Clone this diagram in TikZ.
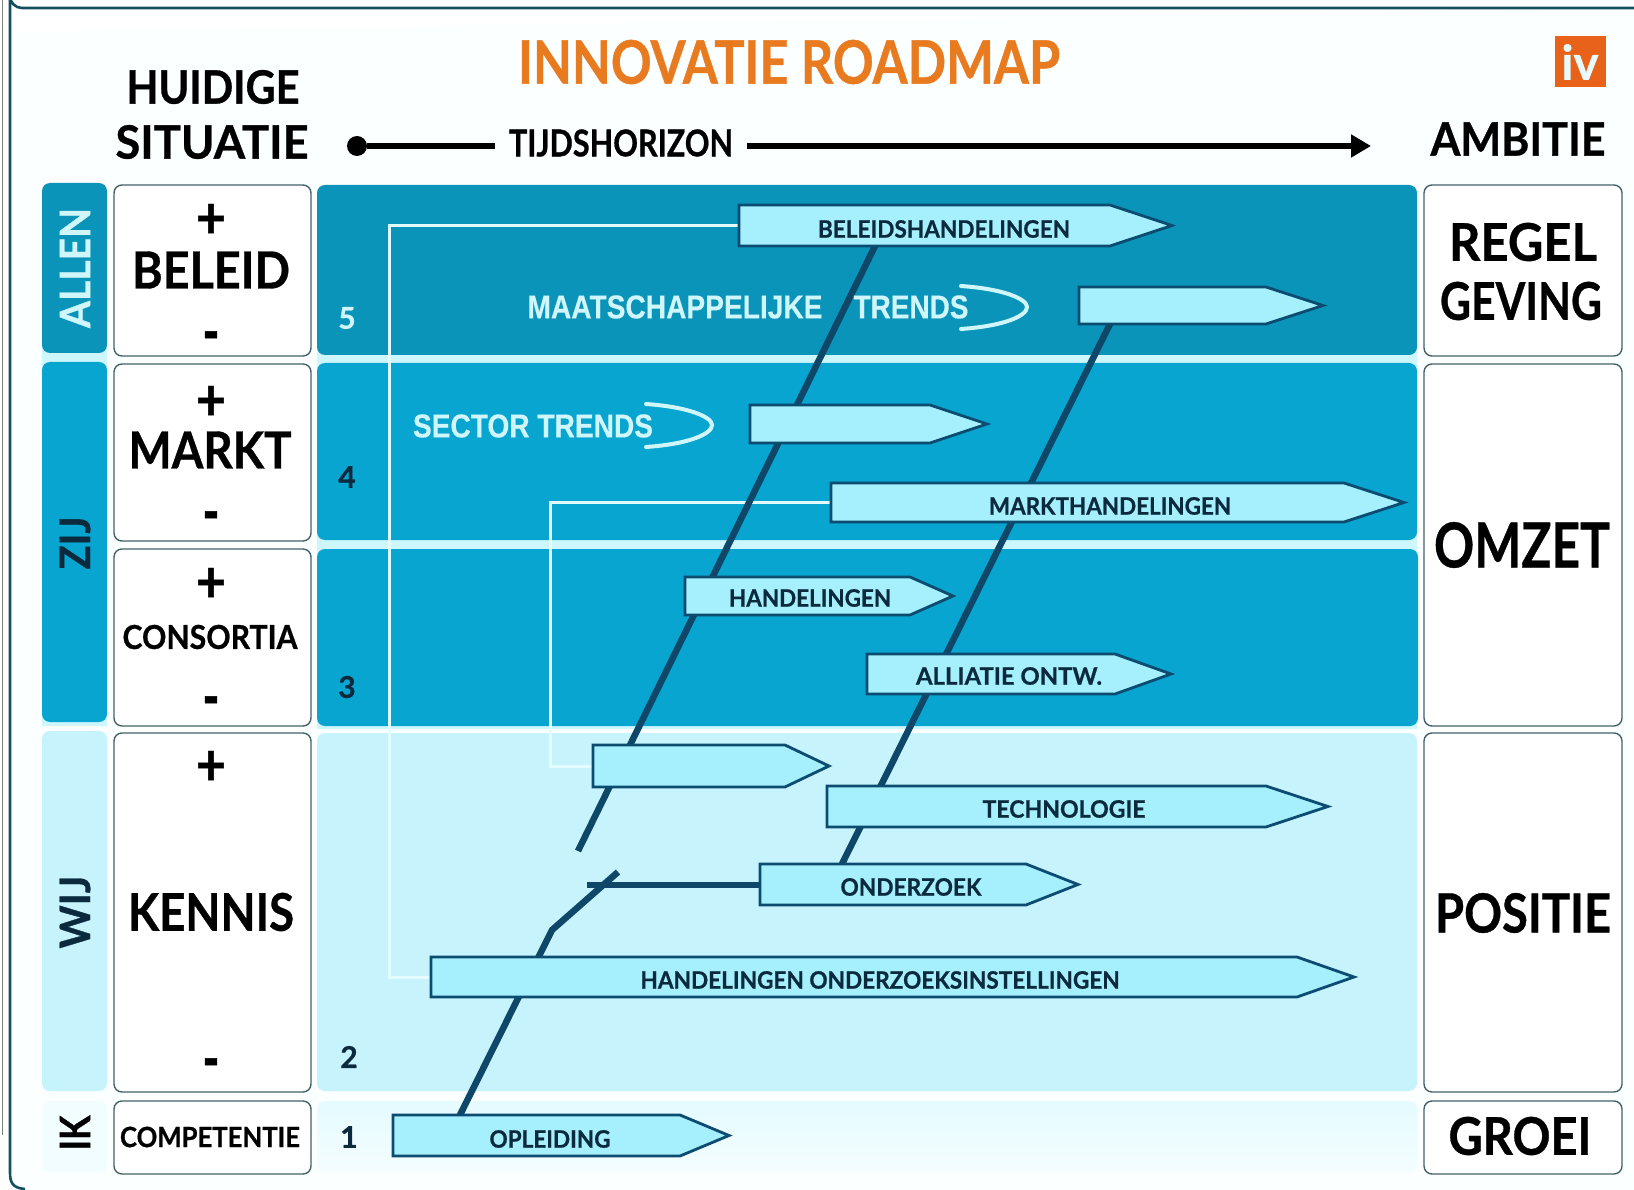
\documentclass[tikz,border=0pt]{standalone}
\usepackage{fontspec}
\usepackage{graphicx}
\setmainfont{Lato}[BoldFeatures={FakeBold=0.7}]
\newfontfamily\arialbold{Liberation Sans}[BoldFeatures={FakeBold=0.3}]
\usetikzlibrary{fit,arrows.meta,backgrounds}
\definecolor{frameC}{HTML}{14505F}
\definecolor{pageC}{HTML}{FBFFFF}
\definecolor{gapC}{HTML}{CDF7FD}
\definecolor{bandA}{HTML}{0A94B9}
\definecolor{bandB}{HTML}{07A5CF}
\definecolor{bandC}{HTML}{C6F3FC}
\definecolor{bandD}{HTML}{E4FBFF}
\definecolor{boxline}{HTML}{43626A}
\definecolor{arrowfill}{HTML}{A6EFFC}
\definecolor{arrowline}{HTML}{0C4C70}
\definecolor{spine}{HTML}{0E4768}
\definecolor{paleT}{HTML}{CFF6FB}
\definecolor{feedC}{HTML}{E2FCFF}
\definecolor{darkT}{HTML}{0B2A3E}
\definecolor{titleC}{HTML}{E87A1F}
\definecolor{logoC}{HTML}{E8621A}
\newcommand\T[3]{\resizebox{#2pt}{\height}{\fontsize{#1}{#1}\selectfont\bfseries #3}}
\newcommand\arrowbox[6]{%
  \draw[arrowshape] (#2,#3) -- (#5,#3) -- (#6,{(#3+#4)/2}) -- (#5,#4) -- (#2,#4) -- cycle;
  \node[fit={(#2,#3) (#6,#4)},inner sep=0pt] (#1) {};}
\pgfdeclarelayer{bands}\pgfdeclarelayer{lines}
\pgfsetlayers{bands,lines,main}
\tikzset{
  x=1pt,y=-1pt,
  arrowshape/.style={draw=arrowline,line width=2.8pt,fill=arrowfill,line join=miter},
  sidebox/.style={draw=boxline,line width=1.4pt,fill=white,rounded corners=8pt},
  bandshape/.style={rounded corners=8pt},
  txt/.style={inner sep=0pt,outer sep=0pt,text=black},
  lab/.style={inner sep=0pt,outer sep=0pt,text=darkT},
  feed/.style={draw=feedC,line width=3pt},
  spineline/.style={draw=spine,line width=6.5pt},
  curl/.style={draw=paleT,line width=4pt,line cap=round},
}
\begin{document}
\begin{tikzpicture}
\useasboundingbox (0,0) rectangle (1634,1190);
\begin{pgfonlayer}{bands}
\fill[white] (0,0) rectangle (1634,1190);
\draw[gray,line width=1pt] (2.5,0) -- (2.5,1135);
\fill[pageC] (10,1190) -- (10,20) arc[start angle=180,end angle=90,radius=12] -- (1634,8) -- (1634,1190) -- cycle;
\draw[frameC,line width=2.6pt] (1634,8) -- (22,8) arc[start angle=90,end angle=180,radius=12] -- (10,1172) .. controls (10,1182) and (12,1188) .. (25,1189);
% gap glow
\fill[gapC] (317,190) rectangle (1417,729);
\fill[gapC] (42,190) rectangle (107,726);
% left column
\fill[bandA,bandshape] (42,183) rectangle (107,353);
\fill[bandB,bandshape] (42,362) rectangle (107,722);
\fill[bandC,bandshape] (42,731) rectangle (107,1091);
\fill[bandD!50!white,bandshape] (42,1101) rectangle (107,1172);
% bands
\fill[bandA,bandshape] (317,185) rectangle (1417,355);
\fill[bandB,bandshape] (317,363) rectangle (1417,540);
\fill[bandB,bandshape] (317,549) rectangle (1418,726);
\fill[bandC,bandshape] (317,733) rectangle (1417,1091);
\shade[top color=bandD,bottom color=bandD!40!white,bandshape] (317,1101) rectangle (1417,1172);
\end{pgfonlayer}
% side boxes
\draw[sidebox] (114,185) rectangle (311,356);
\draw[sidebox] (114,364) rectangle (311,541);
\draw[sidebox] (114,549) rectangle (311,726);
\draw[sidebox] (114,733) rectangle (311,1092);
\draw[sidebox] (114,1101) rectangle (311,1174);
\draw[sidebox] (1424,185) rectangle (1622,356);
\draw[sidebox] (1424,364) rectangle (1622,726);
\draw[sidebox] (1424,733) rectangle (1622,1092);
\draw[sidebox] (1424,1101) rectangle (1622,1174);
% arrows
\arrowbox{beleid}{739}{205}{246}{1110}{1172}
\arrowbox{maat}{1079}{287}{324}{1266}{1323}
\arrowbox{sector}{750}{405}{443}{930}{987}
\arrowbox{markth}{831}{483}{522}{1344}{1404}
\arrowbox{handel}{685}{577}{615}{910}{953}
\arrowbox{allia}{867}{654}{694}{1115}{1171}
\arrowbox{blank}{593}{745}{787}{785}{829}
\arrowbox{techno}{827}{786}{827}{1266}{1328}
\arrowbox{onderz}{760}{864}{905}{1026}{1078}
\arrowbox{instel}{431}{957}{997}{1297}{1354}
\arrowbox{opleid}{393}{1115}{1156}{680}{729}
\coordinate (a1) at (875,246);
\coordinate (a2) at (578,851);
\coordinate (b1) at (1110,324);
\coordinate (b2) at (842,864);
\coordinate (c1) at (618,872);
\coordinate (c2) at (552,930);
\coordinate (c3) at (460,1115);
\coordinate (d1) at (587,885);
\begin{pgfonlayer}{lines}
\draw[feed] (beleid.west) -- ++(-349,0) |- (instel.west);
\draw[feed] (markth.west) -- ++(-280,0) |- (blank.west);
\draw[spineline] (a1) -- (a2);
\draw[spineline] (b1) -- (b2);
\draw[spineline,line join=round] (c1) -- (c2) -- (c3);
\draw[spineline] (d1) -- (d1 -| onderz.west);
\end{pgfonlayer}
% headings
\node[txt,text=titleC] (title) at (789,62) {\T{60}{542}{INNOVATIE ROADMAP}};
\node[txt] (huidige) at (213,87) {\T{46}{173}{HUIDIGE}};
\node[txt] (situatie) at (212,142) {\T{46}{193}{SITUATIE}};
\node[txt] (ambitie) at (1518,139) {\T{46}{175}{AMBITIE}};
\node[fill=black,circle,minimum size=20pt,inner sep=0pt] (dot) at (357,146) {};
\node[txt,inner xsep=14pt,inner ysep=0pt] (tijd) at (621,143) {\T{37}{224}{TIJDSHORIZON}};
\coordinate (tijdend) at (1371,146);
\draw[black,line width=6pt] (dot) -- (dot -| tijd.west);
\draw[black,line width=6pt,-{Triangle[length=20pt,width=22pt]}] (tijdend -| tijd.east) -- (tijdend);
% logo
\node[fill=logoC,minimum width=51pt,minimum height=51pt,inner sep=0pt,text=paleT!50!white] (logo) at (1580,62) {\T{48}{37}{iv}};
% left labels
\node[txt,rotate=90,text=paleT] (allen) at (75,268) {\T{42}{120}{ALLEN}};
\node[txt,rotate=90,text=darkT] (zij) at (75,543) {\T{42}{53}{ZIJ}};
\node[txt,rotate=90,text=darkT] (wij) at (75,912) {\T{42}{73}{WIJ}};
\node[txt,rotate=90] (ik) at (75,1133) {\T{42}{35}{IK}};
\node[txt] (p1) at (211,221) {\T{58}{30}{+}};
\node[txt] (bel) at (211,270) {\T{51}{158}{BELEID}};
\node[txt] (m1) at (211,343) {\T{66}{17}{-}};
\node[txt] (p2) at (211,403) {\T{58}{30}{+}};
\node[txt] (mar) at (210,450) {\T{51}{163}{MARKT}};
\node[txt] (m2) at (211,523) {\T{66}{17}{-}};
\node[txt] (p3) at (211,585) {\T{58}{30}{+}};
\node[txt] (con) at (210,637) {\T{33}{175}{CONSORTIA}};
\node[txt] (m3) at (211,708) {\T{66}{17}{-}};
\node[txt] (p4) at (211,768) {\T{58}{30}{+}};
\node[txt] (ken) at (211,912) {\T{52}{166}{KENNIS}};
\node[txt] (m4) at (211,1070) {\T{66}{17}{-}};
\node[txt] (com) at (210,1137) {\T{28}{180}{COMPETENTIE}};
% right labels
\node[txt] (reg) at (1523,242) {\T{52}{148}{REGEL}};
\node[txt] (gev) at (1521,301) {\T{52}{162}{GEVING}};
\node[txt] (omz) at (1522,545) {\T{62}{176}{OMZET}};
\node[txt] (pos) at (1523,913) {\T{54}{176}{POSITIE}};
\node[txt] (gro) at (1520,1136) {\T{52}{143}{GROEI}};
% numbers
\node[txt,text=paleT] (n5) at (347,318) {\fontsize{30}{30}\selectfont\bfseries 5};
\node[txt,text=darkT] (n4) at (347,477) {\fontsize{30}{30}\selectfont\bfseries 4};
\node[txt,text=darkT] (n3) at (347,687) {\fontsize{30}{30}\selectfont\bfseries 3};
\node[txt,text=darkT] (n2) at (349,1057) {\fontsize{30}{30}\selectfont\bfseries 2};
\node[txt,text=darkT] (n1) at (349,1137) {\fontsize{30}{30}\selectfont\bfseries 1};
% arrow labels
\node[lab] (lb1) at (944,229) {\T{24}{252}{BELEIDSHANDELINGEN}};
\node[lab] (lb2) at (1110,506) {\T{24}{242}{MARKTHANDELINGEN}};
\node[lab] (lb3) at (810,598) {\T{24}{162}{HANDELINGEN}};
\node[lab] (lb4) at (1009,676) {\T{24}{186}{ALLIATIE ONTW.}};
\node[lab] (lb5) at (1064,809) {\T{24}{163}{TECHNOLOGIE}};
\node[lab] (lb6) at (911,887) {\T{24}{141}{ONDERZOEK}};
\node[lab] (lb7) at (880,980) {\T{24}{479}{HANDELINGEN ONDERZOEKSINSTELLINGEN}};
\node[lab] (lb8) at (550,1139) {\T{24}{121}{OPLEIDING}};
% trends
\node[inner sep=0pt,text=paleT] (maatT) at (675,307) {\arialbold\T{33}{295}{MAATSCHAPPELIJKE}};
\node[inner sep=0pt,text=paleT] (trendT) at (911,307) {\arialbold\T{33}{115}{TRENDS}};
\node[inner sep=0pt,text=paleT] (sectT) at (533,426) {\arialbold\T{33}{240}{SECTOR TRENDS}};
\draw[curl] (961,286) .. controls (1004,289) and (1027,299) .. (1027,307) .. controls (1027,316) and (1004,326) .. (961,329);
\draw[curl] (646,404) .. controls (689,407) and (712,417) .. (712,425) .. controls (712,434) and (689,444) .. (646,447);
\end{tikzpicture}
\end{document}
